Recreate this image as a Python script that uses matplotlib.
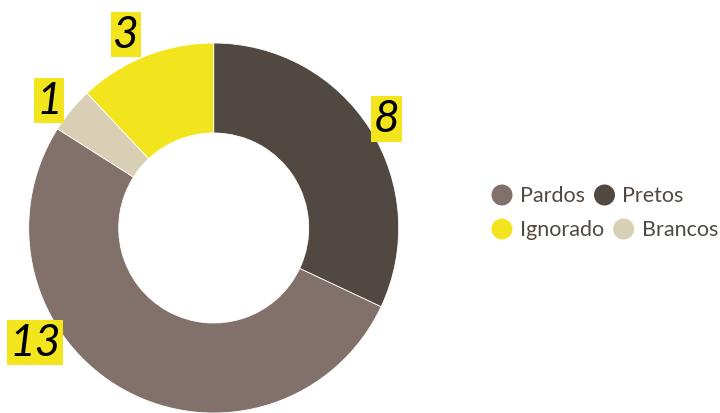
import matplotlib
matplotlib.use("Agg")
import matplotlib.pyplot as plt
from matplotlib.patches import Circle

# Data
categories = ["Pretos", "Pardos", "Brancos", "Ignorado"]
values = [8, 13, 1, 3]
colors = ["#524842", "#82716a", "#d8cfb5", "#f2e51e"]

legend_rows = [["Pardos", "Pretos"], ["Ignorado", "Brancos"]]

W, H, DPI = 720, 414, 100
fig = plt.figure(figsize=(W / DPI, H / DPI), dpi=DPI)

# Donut, laid out in pixel units
cx, cy = 213.7, 229.0          # centre (px from left / top)
R_out, R_in = 185.0, 95.0
half = 200.0
ax = fig.add_axes([(cx - half) / W, 1 - (cy + half) / H, 2 * half / W, 2 * half / H])

ax.pie(values, colors=colors, startangle=90, counterclock=False, radius=R_out,
       wedgeprops=dict(width=R_out - R_in, edgecolor="white", linewidth=0.6))
ax.set_xlim(-half, half)
ax.set_ylim(-half, half)
ax.set_aspect("equal")
ax.axis("off")

# Value labels (positions in px from left / top)
label_pos = {"Pretos": (386.5, 120), "Pardos": (35, 343.5),
             "Brancos": (49, 101.5), "Ignorado": (126, 35.5)}
for cat, v in zip(categories, values):
    px, py = label_pos[cat]
    fig.text(px / W, 1 - py / H, str(v), ha="center", va="center",
             family="Lato", style="italic", fontsize=32, color="black",
             bbox=dict(facecolor="#f2e51e", edgecolor="none", boxstyle="square,pad=0.05"))

# Legend laid out as flowing rows
color_of = dict(zip(categories, colors))
fig.canvas.draw()
renderer = fig.canvas.get_renderer()
row_y = [196, 230]
x0 = 502
marker_r = 10.5
for row, y in zip(legend_rows, row_y):
    x = x0
    for name in row:
        fig.patches.append(Circle((x, H - y), marker_r, transform=None,
                                  facecolor=color_of[name], edgecolor="none"))
        t = fig.text((x + marker_r + 7.5) / W, 1 - y / H, name, ha="left", va="center",
                     family="Lato", fontsize=15.5, color="#524842")
        bb = t.get_window_extent(renderer)
        x = bb.x1 + 9 + marker_r

fig.savefig("out.png", dpi=DPI)
